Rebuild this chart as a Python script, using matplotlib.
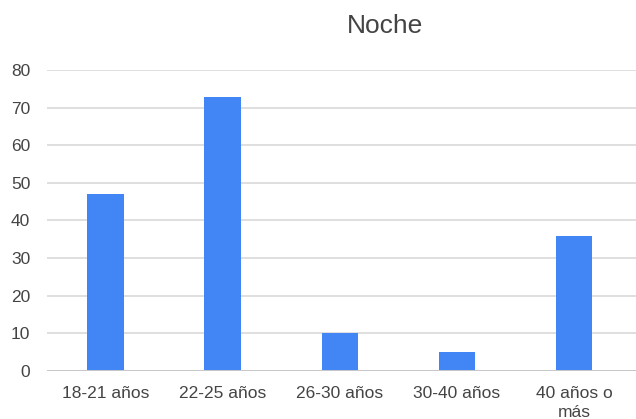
import matplotlib
matplotlib.use("Agg")
import matplotlib.pyplot as plt

# Data
categorias = ["18-21 años", "22-25 años", "26-30 años", "30-40 años", "40 años o\nmás"]
valores = [47, 73, 10, 5, 36]
y_ticks = [0, 10, 20, 30, 40, 50, 60, 70, 80]

plt.rcParams['font.family'] = ['Liberation Sans', 'DejaVu Sans']
text_color = "#444444"

fig = plt.figure(figsize=(6.36, 4.19), dpi=100)
ax = fig.add_axes([47 / 636, 48.3 / 419, 589 / 636, 300.4 / 419])

x = range(len(categorias))
ax.bar(x, valores, width=0.31, color="#4285F4", zorder=3)

# gridlines run to the right edge, a bit past the last category slot
ax.set_xlim(-0.5, len(categorias) - 0.47)
ax.set_ylim(0, 80)
ax.set_yticks(y_ticks)
ax.set_xticks(list(x))
ax.set_xticklabels(categorias, linespacing=1.35, va="top")

ax.grid(axis="y", color="#d9d9d9", linewidth=1.2, zorder=0)
ax.axhline(0, color="#c8c8c8", linewidth=1.4, zorder=4)
for s in ax.spines.values():
    s.set_visible(False)
ax.tick_params(axis="both", length=0, labelsize=12.5, colors=text_color)
ax.tick_params(axis="y", pad=12)
ax.tick_params(axis="x", pad=11)

fig.text(385 / 636, 1 - 26 / 419, "Noche", ha="center", va="center",
         fontsize=19, color=text_color)

fig.savefig("out.png", dpi=100)
